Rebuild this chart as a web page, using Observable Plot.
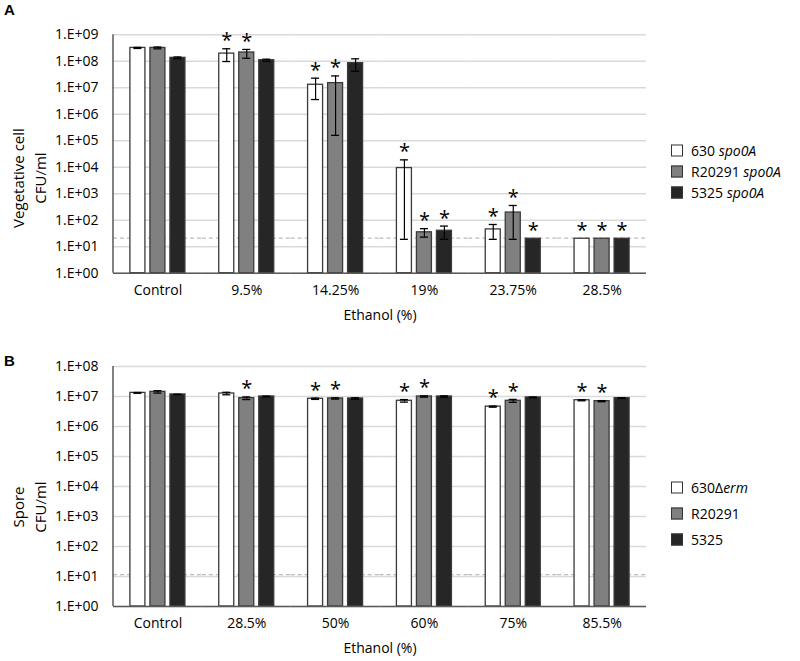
<!DOCTYPE html>
<html><head><meta charset="utf-8">
<script src="https://cdn.jsdelivr.net/npm/d3@7"></script>
<script src="https://cdn.jsdelivr.net/npm/@observablehq/plot@0.6"></script>
<style>
body{margin:0;background:#fff;font-family:"Open Sans",sans-serif;color:#000;}
#wrap{position:relative;width:800px;height:661px;overflow:hidden;}
#wrap svg{position:absolute;left:0;}
.abs{position:absolute;white-space:nowrap;}
.panel{font-family:"Liberation Sans",Arial,sans-serif;font-weight:bold;font-size:15px;}
.ylab{font-size:15px;line-height:22px;text-align:center;transform:translate(-50%,-50%) rotate(-90deg);}
.xlab{font-size:14px;transform:translate(-50%,-50%);}
.leg{font-size:14px;display:flex;align-items:center;transform:translateY(-50%);}
.sw{width:10px;height:10px;border:1.3px solid #333;margin-right:8px;box-sizing:content-box;}
</style></head><body><div id="wrap"></div>
<script>
// ---------- Panel A data ----------
const catsA = ["Control","9.5%","14.25%","19%","23.75%","28.5%"];
const strainsA = ["630 spo0A","R20291 spo0A","5325 spo0A"];
const valA630   = [3.2e8, 1.95e8, 1.3e7, 9.3e3, 45, 20];
const valAR     = [3.2e8, 2.15e8, 1.5e7, 35, 195, 20];
const valA5325  = [1.35e8, 1.1e8, 8.5e7, 40, 20, 20];
const hiA630    = [3.35e8, 2.97e8, 2.3e7, 1.9e4, 69, null];
const loA630    = [3.05e8, 0.98e8, 3.6e6, 19, 19, null];
const hiAR      = [3.45e8, 2.8e8, 2.8e7, 48, 360, null];
const loAR      = [2.95e8, 1.3e8, 1.6e5, 23, 19, null];
const hiA5325   = [1.45e8, 1.2e8, 1.24e8, 60, null, null];
const loA5325   = [1.25e8, 1.0e8, 4.2e7, 19, null, null];
const starA630  = [0,1,1,1,1,1];
const starAR    = [0,1,1,1,1,1];
const starA5325 = [0,0,0,1,1,1];
const thresholdA = 21;
const ticksA = [1,1e1,1e2,1e3,1e4,1e5,1e6,1e7,1e8,1e9];

// ---------- Panel B data ----------
const catsB = ["Control","28.5%","50%","60%","75%","85.5%"];
const strainsB = ["630\u0394erm","R20291","5325"];
const valB630   = [1.32e7, 1.26e7, 8.4e6, 7.2e6, 4.6e6, 7.5e6];
const valBR     = [1.43e7, 8.8e6, 8.6e6, 1.0e7, 7.2e6, 7.0e6];
const valB5325  = [1.17e7, 1.0e7, 8.6e6, 1.0e7, 9.3e6, 8.8e6];
const hiB630    = [1.36e7, 1.38e7, 8.8e6, 7.9e6, 4.8e6, 7.8e6];
const loB630    = [1.28e7, 1.14e7, 8.0e6, 6.5e6, 4.4e6, 7.2e6];
const hiBR      = [1.56e7, 9.7e6, 9.0e6, 1.05e7, 8.0e6, 7.3e6];
const loBR      = [1.30e7, 7.9e6, 8.2e6, 9.5e6, 6.4e6, 6.7e6];
const hiB5325   = [1.19e7, 1.03e7, 9.1e6, 1.05e7, 9.6e6, 9.0e6];
const loB5325   = [1.15e7, 9.7e6, 8.1e6, 9.5e6, 9.0e6, 8.6e6];
const starB630  = [0,0,1,1,1,1];
const starBR    = [0,1,1,1,1,1];
const starB5325 = [0,0,0,0,0,0];
const thresholdB = 11.5;
const ticksB = [1,1e1,1e2,1e3,1e4,1e5,1e6,1e7,1e8];

const colors = ["#ffffff","#808080","#262626"];
const fmt = d => "1.E+" + String(Math.round(Math.log10(d))).padStart(2,"0");

function panel({cats, strains, vals, his, los, stars, thr, ticks, height, mt, mb}) {
  const rows = [];
  strains.forEach((s, si) => cats.forEach((c, ci) => rows.push({
    cat: c, strain: s, v: vals[si][ci], hi: his[si][ci], lo: los[si][ci], star: stars[si][ci]
  })));
  const eb = rows.filter(d => d.hi != null);
  const yMax = ticks[ticks.length - 1];
  const chart = Plot.plot({
    width: 800, height, marginLeft: 113, marginRight: 154, marginTop: mt, marginBottom: mb,
    style: {fontFamily: "Open Sans", fontSize: "14px", color: "#000", background: "#fff"},
    fx: {domain: cats, padding: 0, round: false, label: null},
    x: {domain: strains, paddingInner: 0.25, paddingOuter: 0.845, round: false, axis: null},
    y: {type: "log", domain: [1, yMax]},
    color: {domain: strains, range: colors},
    marks: [
      Plot.gridY(ticks, {stroke: "#d9d9d9", strokeOpacity: 1, strokeWidth: 1.5}),
      Plot.ruleY([thr], {stroke: "#bcbcbc", strokeDasharray: "4,3", strokeWidth: 1.2}),
      Plot.barY(rows, {fx: "cat", x: "strain", y1: 1, y2: "v", fill: "strain", stroke: "#3a3a3a", strokeWidth: 1.3}),
      Plot.ruleX(eb, {fx: "cat", x: "strain", y1: "lo", y2: "hi", stroke: "#000", strokeWidth: 1.2}),
      Plot.tickY(eb, {fx: "cat", x: "strain", y: "hi", insetLeft: 3.5, insetRight: 3.5, stroke: "#000", strokeWidth: 1.3}),
      Plot.tickY(eb, {fx: "cat", x: "strain", y: "lo", insetLeft: 3.5, insetRight: 3.5, stroke: "#000", strokeWidth: 1.3}),
      Plot.text(rows.filter(d => d.star), {fx: "cat", x: "strain", y: d => d.hi ?? d.v, text: () => "*", fontSize: 20, dy: -8, fill: "#000"}),
      Plot.ruleY([1], {stroke: "#595959", strokeWidth: 1.5}),
      Plot.axisY({ticks, tickFormat: fmt, tickSize: 0, tickPadding: 15, fontSize: 14, label: null}),
      Plot.axisFx({anchor: "bottom", tickSize: 0, tickPadding: 12, fontSize: 14, label: null})
    ]
  });
  const ys = chart.scale("y"), fxs = chart.scale("fx");
  const xl = fxs.apply(cats[0]);
  d3.select(chart).append("line")
    .attr("x1", xl).attr("x2", xl).attr("y1", ys.apply(1)).attr("y2", ys.apply(yMax))
    .attr("stroke", "#404040").attr("stroke-width", 1.3);
  return chart;
}

const wrap = document.getElementById("wrap");
const chartA = panel({cats: catsA, strains: strainsA,
  vals: [valA630, valAR, valA5325], his: [hiA630, hiAR, hiA5325], los: [loA630, loAR, loA5325],
  stars: [starA630, starAR, starA5325], thr: thresholdA, ticks: ticksA, height: 325, mt: 34.3, mb: 52.3});
chartA.style.top = "0px";
wrap.appendChild(chartA);
const chartB = panel({cats: catsB, strains: strainsB,
  vals: [valB630, valBR, valB5325], his: [hiB630, hiBR, hiB5325], los: [loB630, loBR, loB5325],
  stars: [starB630, starBR, starB5325], thr: thresholdB, ticks: ticksB, height: 336, mt: 41, mb: 55});
chartB.style.top = "325px";
wrap.appendChild(chartB);

function addDiv(cls, html, left, top) {
  const d = document.createElement("div");
  d.className = "abs " + cls; d.innerHTML = html;
  d.style.left = left + "px"; d.style.top = top + "px";
  wrap.appendChild(d); return d;
}
addDiv("panel", "A", 4, 1);
addDiv("panel", "B", 4, 352);
addDiv("ylab", "Vegetative cell<br>CFU/ml", 29, 178);
addDiv("ylab", "Spore<br>CFU/ml", 29, 507);
addDiv("xlab", "Ethanol (%)", 380, 314);
addDiv("xlab", "Ethanol (%)", 380, 647);

const legA = [["630 <i>spo0A</i>", 150], ["R20291 <i>spo0A</i>", 171], ["5325 <i>spo0A</i>", 192]];
legA.forEach(([t, y], i) => addDiv("leg", `<span class="sw" style="background:${colors[i]}"></span><span>${t}</span>`, 671, y));
const legB = [["630\u0394<i>erm</i>", 487], ["R20291", 513], ["5325", 539]];
legB.forEach(([t, y], i) => addDiv("leg", `<span class="sw" style="background:${colors[i]}"></span><span>${t}</span>`, 671, y));
</script>
</body></html>
